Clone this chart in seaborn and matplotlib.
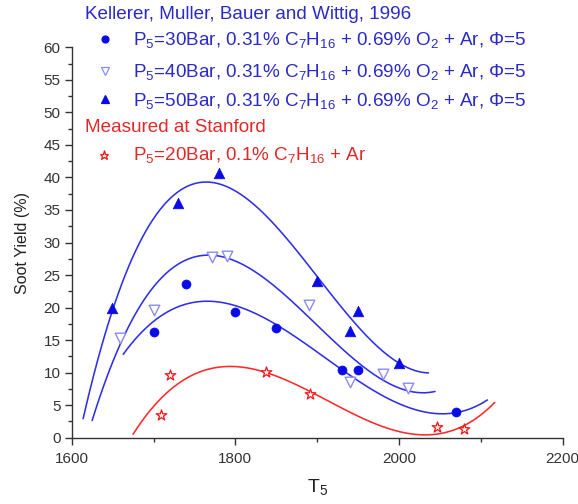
import matplotlib
matplotlib.use("Agg")
import matplotlib.pyplot as plt
from matplotlib.lines import Line2D
from matplotlib.ticker import MultipleLocator
import seaborn as sns

# ---- measured soot yields (T5 in K, yield in %) ----
t_30bar = [1700, 1740, 1800, 1850, 1930, 1950, 2070]
y_30bar = [16.3, 23.6, 19.3, 16.8, 10.4, 10.4, 3.9]

t_40bar = [1659, 1700, 1771, 1790, 1890, 1940, 1980, 2011]
y_40bar = [15.3, 19.6, 27.7, 28.0, 20.4, 8.5, 9.8, 7.6]

t_50bar = [1649, 1730, 1780, 1900, 1950, 1940, 2000]
y_50bar = [19.9, 36.1, 40.7, 24.1, 19.4, 16.4, 11.5]

t_20bar = [1709, 1720, 1838, 1891, 2047, 2080]
y_20bar = [3.5, 9.6, 10.1, 6.7, 1.7, 1.4]

# ---- points along the fitted trend curves (smoothed with a cubic) ----
fit50_t = [1614, 1626, 1638, 1651, 1667, 1683, 1705, 1728, 1746, 1765, 1782, 1798,
           1814, 1830, 1846, 1863, 1880, 1895, 1920, 1944, 1969, 2000, 2018, 2036]
fit50_y = [3.3, 8.8, 14.8, 20.0, 25.3, 30.0, 34.6, 37.7, 38.7, 39.1, 38.9, 38.2,
           36.8, 35.2, 33.2, 31.0, 28.0, 25.3, 21.0, 17.9, 14.7, 11.5, 10.4, 10.0]

fit40_t = [1625, 1634, 1643, 1653, 1663, 1673, 1684, 1696, 1708, 1720, 1732, 1750,
           1769, 1790, 1810, 1830, 1850, 1867, 1885, 1900, 1924, 1952, 1981, 2013, 2030, 2044]
fit40_y = [2.1, 6.0, 9.4, 12.6, 15.5, 18.0, 20.5, 22.9, 24.8, 26.2, 27.0, 27.5,
           27.5, 27.0, 26.1, 24.8, 23.2, 21.3, 19.3, 17.6, 14.5, 11.4, 8.9, 7.2, 6.9, 6.9]

fit30_t = [1663, 1679, 1693, 1708, 1724, 1740, 1755, 1769, 1790, 1818, 1850, 1875,
           1899, 1930, 1956, 1981, 2009, 2038, 2055, 2070, 2091, 2108]
fit30_y = [12.6, 15.3, 17.2, 18.7, 19.8, 20.6, 21.0, 21.2, 20.8, 19.6, 17.0, 15.0,
           13.0, 10.4, 8.4, 6.6, 5.0, 4.0, 3.8, 3.75, 4.3, 5.9]

fit20_t = [1675, 1692, 1708, 1732, 1761, 1789, 1814, 1838, 1859, 1891, 1916, 1940,
           1965, 1989, 2010, 2030, 2054, 2079, 2103, 2117]
fit20_y = [0.0, 3.75, 6.3, 8.6, 10.4, 10.9, 10.7, 10.1, 9.1, 6.7, 5.2, 3.75,
           2.5, 1.45, 0.95, 0.7, 0.92, 1.7, 3.5, 5.5]

x_ticks = [1600, 1800, 2000, 2200]
y_ticks = list(range(0, 61, 5))

# ---- colours ----
BLUE_TXT = "#2a2ac8"
BLUE_MK = "#0a0ae6"
BLUE_LN = "#2f2fe8"
BLUE_OPEN = "#8c8cf0"
RED_TXT = "#e02a2a"
RED_MK = "#f01818"
RED_LN = "#ff2a2a"

sns.set_style("ticks")
plt.rcParams["font.family"] = ["Liberation Sans", "DejaVu Sans"]
plt.rcParams["mathtext.fontset"] = "custom"
plt.rcParams["mathtext.rm"] = "Liberation Sans"
plt.rcParams["mathtext.it"] = "Liberation Sans:italic"

fig = plt.figure(figsize=(5.78, 5.04), dpi=100)
ax = fig.add_axes([0.1240, 0.1315, 0.8495, 0.7746])

# cubic trend curves
for tt, yy, col in [(fit50_t, fit50_y, BLUE_LN), (fit40_t, fit40_y, BLUE_LN),
                    (fit30_t, fit30_y, BLUE_LN), (fit20_t, fit20_y, RED_LN)]:
    sns.regplot(x=tt, y=yy, order=3, ci=None, scatter=False, truncate=True,
                color=col, line_kws={"lw": 1.15}, ax=ax)

# data markers
sns.scatterplot(x=t_30bar, y=y_30bar, marker="o", s=42, color=BLUE_MK,
                edgecolor=BLUE_MK, linewidth=0.5, ax=ax, zorder=3)
sns.scatterplot(x=t_40bar, y=y_40bar, marker="v", s=58, color="white",
                edgecolor=BLUE_OPEN, linewidth=1.0, ax=ax, zorder=3)
sns.scatterplot(x=t_50bar, y=y_50bar, marker="^", s=58, color=BLUE_MK,
                edgecolor=BLUE_MK, linewidth=0.5, ax=ax, zorder=3)
sns.scatterplot(x=t_20bar, y=y_20bar, marker="*", s=64, color="#fff0f0",
                edgecolor=RED_MK, linewidth=0.9, ax=ax, zorder=3)

ax.set_xlim(1600, 2200)
ax.set_ylim(0, 60)
ax.set_xticks(x_ticks)
ax.set_yticks(y_ticks)
ax.xaxis.set_minor_locator(MultipleLocator(100))
ax.yaxis.set_minor_locator(MultipleLocator(2.5))
for side in ("top", "right"):
    ax.spines[side].set_visible(False)
for side in ("left", "bottom"):
    ax.spines[side].set_color("#333333")
    ax.spines[side].set_linewidth(1.0)
ax.tick_params(which="major", direction="out", length=5, width=1.0,
               color="#333333", labelsize=11, labelcolor="#333333")
ax.tick_params(which="minor", direction="out", length=3, width=1.0, color="#333333")
ax.tick_params(axis="x", which="major", pad=5)
ax.tick_params(axis="y", which="major", pad=3)
ax.set_xlabel("T$\\mathregular{_5}$", fontsize=14, color="#222222", labelpad=8)
ax.set_ylabel("Soot Yield (%)", fontsize=11.5, color="#222222", labelpad=10)

# ---- legend block ----
W, H = 578.0, 504.0


def fx(px):
    return px / W


def fy(py):
    return 1 - py / H


FS = 13.6
fig.text(fx(85), fy(19.3), "Kellerer, Muller, Bauer and Wittig, 1996",
         color=BLUE_TXT, fontsize=FS, va="baseline", ha="left")
mix = " + 0.69% O$\\mathregular{_2}$ + Ar, Φ=5"
rows = [
    ("o", BLUE_MK, BLUE_MK, 5.0, 39.0, 45.0,
     "P$\\mathregular{_5}$=30Bar, 0.31% C$\\mathregular{_7}$H$\\mathregular{_{16}}$" + mix, BLUE_TXT),
    ("v", "white", BLUE_OPEN, 5.5, 70.5, 76.7,
     "P$\\mathregular{_5}$=40Bar, 0.31% C$\\mathregular{_7}$H$\\mathregular{_{16}}$" + mix, BLUE_TXT),
    ("^", BLUE_MK, BLUE_MK, 5.5, 99.0, 106.0,
     "P$\\mathregular{_5}$=50Bar, 0.31% C$\\mathregular{_7}$H$\\mathregular{_{16}}$" + mix, BLUE_TXT),
]
for mk, fc, ec, ms, my, base, label, tc in rows:
    fig.add_artist(Line2D([fx(105)], [fy(my)], transform=fig.transFigure, marker=mk,
                          markersize=ms, markerfacecolor=fc, markeredgecolor=ec,
                          markeredgewidth=0.9, linestyle="none"))
    fig.text(fx(133), fy(base), label, color=tc, fontsize=FS, va="baseline", ha="left")

fig.text(fx(85), fy(131.7), "Measured at Stanford", color=RED_TXT, fontsize=FS,
         va="baseline", ha="left")
fig.add_artist(Line2D([fx(104)], [fy(154.5)], transform=fig.transFigure, marker="*",
                      markersize=6.5, markerfacecolor="#fff0f0", markeredgecolor=RED_MK,
                      markeredgewidth=0.9, linestyle="none"))
fig.text(fx(133), fy(160.0),
         "P$\\mathregular{_5}$=20Bar, 0.1% C$\\mathregular{_7}$H$\\mathregular{_{16}}$ + Ar",
         color=RED_TXT, fontsize=FS, va="baseline", ha="left")

fig.savefig("out.png", dpi=100)
